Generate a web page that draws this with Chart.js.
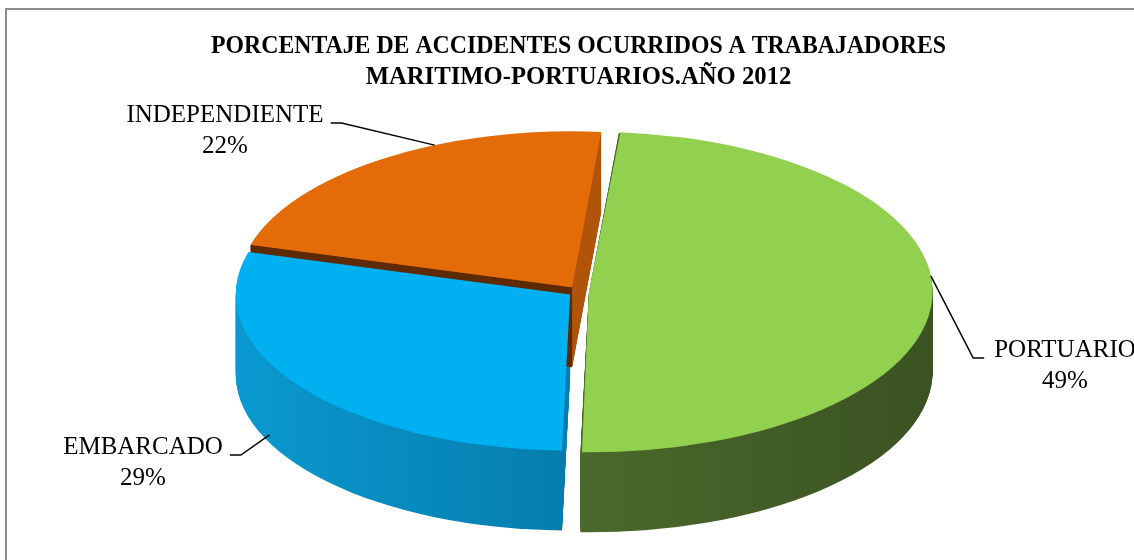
<!DOCTYPE html>
<html>
<head>
<meta charset="utf-8">
<script src="https://cdn.jsdelivr.net/npm/chart.js@4.4.1/dist/chart.umd.min.js"></script>
<style>
  html, body { margin: 0; padding: 0; background: #fff; }
  #wrap { position: relative; width: 1134px; height: 560px; overflow: hidden; }
  #frame { position: absolute; left: 5px; top: 8px; width: 1170px; height: 600px; border: 2px solid #8c8c8c; box-sizing: border-box; }
  canvas { position: absolute; left: 0; top: 0; }
</style>
</head>
<body>
<div id="wrap">
  <div id="frame"></div>
  <canvas id="myChart" width="1134" height="560"></canvas>
</div>
<script>
// data
const categories = ['PORTUARIO', 'EMBARCADO', 'INDEPENDIENTE'];
const values = [49, 29, 22];

// styles
const topColors = ['#92d050', '#00b0f0', '#e36c09'];
const sideColors = [['#5c8035', '#3a5222'], ['#0a9ad2', '#005e84'], ['#b8590b', '#a94f08']];
const startWallColors = [null, null, '#5e2a04'];
const offsets = [24, 24, 26];
const DEPTH = 80;
const SIDE_INSET = 11;

// where each label sits, and where its leader line hits the slice
const labelBoxes = [
  { x: 1065, y: 350, side: 'left',  at: 0.45, dz: 0 },
  { x: 143,  y: 447, side: 'right', at: 0.60, dz: 0.9 },
  { x: 225,  y: 115, side: 'right', at: 0.63, dz: 0 }
];

const total = values.reduce((a, b) => a + b, 0);

function ellipseTransform(chart) {
  const arcs = chart.getDatasetMeta(0).data;
  const a0 = arcs[0];
  const ca = chart.chartArea;
  const R = a0.outerRadius + Math.max(...offsets) / 2;
  return {
    cx: (ca.left + ca.right) / 2,
    cy: ca.top + (ca.height - DEPTH) / 2,
    sx: (ca.width / 2 - SIDE_INSET) / R,
    sy: (ca.height - DEPTH) / 2 / R,
    x0: a0.x, y0: a0.y, R: R
  };
}

function applyT(ctx, t, dy) {
  ctx.translate(t.cx, t.cy + dy);
  ctx.scale(t.sx, t.sy);
  ctx.translate(-t.x0, -t.y0);
}

function toScreen(t, x, y, dy) {
  return [t.cx + (x - t.x0) * t.sx, t.cy + (y - t.y0) * t.sy + dy];
}

function sliceGeom(arc) {
  const off = (arc.options.offset || 0) / 4;
  const mid = (arc.startAngle + arc.endAngle) / 2;
  const circ = arc.endAngle - arc.startAngle;
  const fix = 1 - Math.sin(Math.min(Math.PI, circ));
  return {
    ox: arc.x + Math.cos(mid) * off,
    oy: arc.y + Math.sin(mid) * off,
    r: arc.outerRadius + off * fix
  };
}

function slicePath(ctx, arc) {
  const g = sliceGeom(arc);
  ctx.beginPath();
  ctx.moveTo(g.ox, g.oy);
  ctx.arc(g.ox, g.oy, g.r, arc.startAngle, arc.endAngle);
  ctx.closePath();
}

const pie3d = {
  id: 'pie3d',
  beforeDatasetsDraw(chart) {
    const ctx = chart.ctx;
    const t = ellipseTransform(chart);
    const arcs = chart.getDatasetMeta(0).data;
    const grads = arcs.map((arc, i) => {
      const g = ctx.createLinearGradient(t.x0 - t.R, 0, t.x0 + t.R, 0);
      g.addColorStop(0, sideColors[i][0]);
      g.addColorStop(1, sideColors[i][1]);
      return g;
    });
    for (let d = DEPTH; d > 0; d--) {
      ctx.save();
      applyT(ctx, t, d);
      arcs.forEach((arc, i) => {
        ctx.fillStyle = grads[i];
        slicePath(ctx, arc);
        ctx.fill();
      });
      ctx.restore();
    }
    // darker radial face where a raised slice meets its neighbour
    arcs.forEach((arc, i) => {
      if (!startWallColors[i]) return;
      const g = sliceGeom(arc);
      const ex = g.ox + Math.cos(arc.startAngle) * g.r;
      const ey = g.oy + Math.sin(arc.startAngle) * g.r;
      const p1 = toScreen(t, g.ox, g.oy, 0), p2 = toScreen(t, ex, ey, 0);
      const p3 = toScreen(t, ex, ey, DEPTH), p4 = toScreen(t, g.ox, g.oy, DEPTH);
      ctx.fillStyle = startWallColors[i];
      ctx.beginPath();
      ctx.moveTo(p1[0], p1[1]); ctx.lineTo(p2[0], p2[1]);
      ctx.lineTo(p3[0], p3[1]); ctx.lineTo(p4[0], p4[1]);
      ctx.closePath();
      ctx.fill();
    });
    ctx.save();
    applyT(ctx, t, 0);
  },
  afterDatasetsDraw(chart) {
    chart.ctx.restore();
  },
  afterDraw(chart) {
    const ctx = chart.ctx;
    const t = ellipseTransform(chart);
    const arcs = chart.getDatasetMeta(0).data;
    ctx.save();
    ctx.font = '25px "Liberation Serif", serif';
    ctx.fillStyle = '#000';
    ctx.strokeStyle = '#000';
    ctx.lineWidth = 1.5;
    ctx.textAlign = 'center';
    ctx.textBaseline = 'middle';
    arcs.forEach((arc, i) => {
      const box = labelBoxes[i];
      const pct = Math.round(values[i] / total * 100) + '%';
      ctx.fillText(categories[i], box.x, box.y);
      ctx.fillText(pct, box.x, box.y + 31);
      // leader line
      const g = sliceGeom(arc);
      const a = arc.startAngle + (arc.endAngle - arc.startAngle) * box.at;
      const p = toScreen(t, g.ox + Math.cos(a) * g.r, g.oy + Math.sin(a) * g.r, box.dz * DEPTH);
      const w = ctx.measureText(categories[i]).width;
      const sx = box.side === 'right' ? box.x + w / 2 + 7 : box.x - w / 2 - 10;
      const ex = box.side === 'right' ? sx + 11 : sx - 11;
      const ly = box.y + 8;
      ctx.beginPath();
      ctx.moveTo(sx, ly);
      ctx.lineTo(ex, ly);
      ctx.lineTo(p[0], p[1]);
      ctx.stroke();
    });
    ctx.restore();
  }
};

const ctx = document.getElementById('myChart');
new Chart(ctx, {
  type: 'pie',
  data: {
    labels: categories,
    datasets: [{
      data: values,
      backgroundColor: topColors,
      borderWidth: 0,
      offset: offsets,
      clip: false
    }]
  },
  options: {
    responsive: false,
    animation: false,
    events: [],
    rotation: 5,
    layout: { padding: { left: 211, right: 188, top: 0, bottom: 22 } },
    plugins: {
      legend: { display: false },
      tooltip: { enabled: false },
      title: {
        display: true,
        text: ['PORCENTAJE DE ACCIDENTES OCURRIDOS A TRABAJADORES', 'MARITIMO-PORTUARIOS.AÑO 2012'],
        color: '#000',
        font: { family: '"Liberation Serif", serif', size: 24.7, weight: 'bold', lineHeight: 1.26 },
        padding: { top: 31, bottom: 32 }
      }
    }
  },
  plugins: [pie3d]
});
</script>
</body>
</html>
